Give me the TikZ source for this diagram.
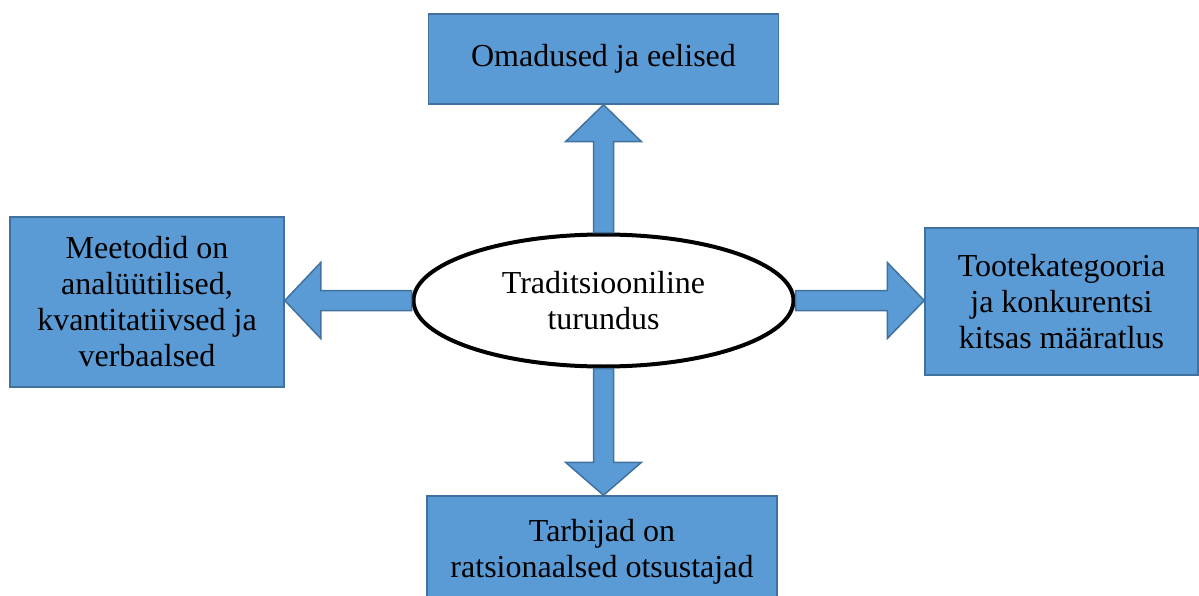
\documentclass[tikz,border=0pt]{standalone}
\usepackage{fontspec}
\setmainfont{Liberation Serif}
\usetikzlibrary{calc,shapes.geometric}
\definecolor{boxB}{RGB}{91,155,213}
\definecolor{edgeB}{RGB}{65,113,156}

\begin{document}
\begin{tikzpicture}[x=1pt,y=-1pt,
  font=\fontsize{32}{36}\selectfont,
  infobox/.style={draw=edgeB,fill=boxB,line width=1.5pt,inner sep=0pt,align=center},
  blkarrow/.style={draw=edgeB,fill=boxB,line width=1.5pt,line join=miter}]
\useasboundingbox (0,0) rectangle (1199,596);
\node[ellipse,draw,fill=white,line width=4pt,minimum width=380,minimum height=132,align=center] (ell) at (603.5,300.5) {Traditsiooniline\\turundus};
\node[infobox,minimum width=350,minimum height=90] (top) at (603.5,59) {Omadused ja eelised};
\node[infobox,minimum width=274,minimum height=170] (left) at (147,302) {Meetodid on\\anal\"u\"utilised,\\kvantitatiivsed ja\\verbaalsed};
\node[infobox,minimum width=273,minimum height=147] (right) at (1061.5,301.5) {Tootekategooria\\ja konkurentsi\\kitsas m\"a\"aratlus};
\node[infobox,minimum width=350,minimum height=112] (bot) at (602,552) {Tarbijad on\\ratsionaalsed otsustajad};
\coordinate (tu) at (top.south -| ell.north);
\coordinate (td) at (bot.north -| ell.south);
\coordinate (tl) at (ell.west -| left.east);
\coordinate (tr) at (ell.east -| right.west);
% block arrows
\draw[blkarrow] (tu) -- ++(38,37) -- ++(-28,0) -- ($(ell.north)+(10,0)$) -- ($(ell.north)+(-10,0)$) -- ($(tu)+(-10,37)$) -- ++(-28,0) -- cycle;
\draw[blkarrow] (td) -- ++(38,-33) -- ++(-28,0) -- ($(ell.south)+(10,0)$) -- ($(ell.south)+(-10,0)$) -- ($(td)+(-10,-33)$) -- ++(-28,0) -- cycle;
\draw[blkarrow] (tl) -- ++(36,-38) -- ++(0,28) -- ($(ell.west)+(0,-10)$) -- ($(ell.west)+(0,10)$) -- ($(tl)+(36,10)$) -- ++(0,28) -- cycle;
\draw[blkarrow] (tr) -- ++(-37,-38) -- ++(0,28) -- ($(ell.east)+(0,-10)$) -- ($(ell.east)+(0,10)$) -- ($(tr)+(-37,10)$) -- ++(0,28) -- cycle;
\end{tikzpicture}
\end{document}
